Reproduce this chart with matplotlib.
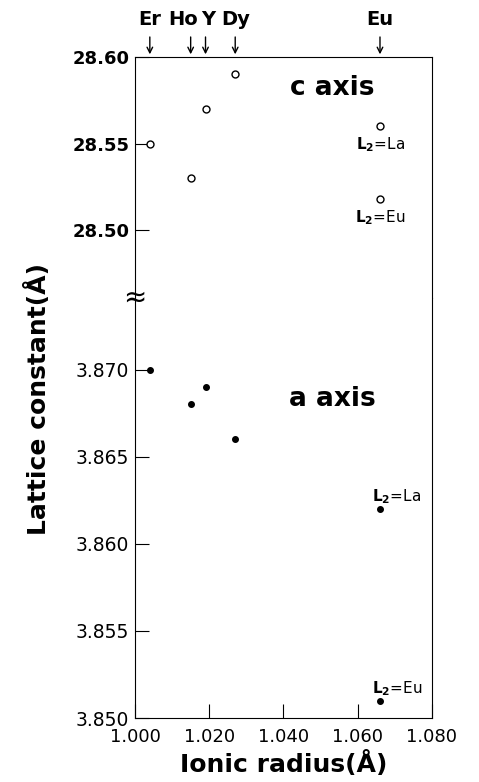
import matplotlib.pyplot as plt

# Данные (ионный радиус, постоянные решетки)
elements = ['Er', 'Ho', 'Y', 'Dy']
radius = [1.004, 1.015, 1.019, 1.027]
c_vals = [28.55, 28.53, 28.57, 28.59]
a_vals = [3.870, 3.868, 3.869, 3.866]

eu_radius = 1.066
l2_labels = ['La', 'Eu']
c_l2 = [28.56, 28.518]
a_l2 = [3.862, 3.851]

x_ticks = [1.000, 1.020, 1.040, 1.060, 1.080]
c_ticks = [28.50, 28.55, 28.60]
a_ticks = [3.850, 3.855, 3.860, 3.865, 3.870]

plt.rcParams['font.family'] = 'DejaVu Sans'
plt.rcParams['mathtext.fontset'] = 'dejavusans'

fig = plt.figure(figsize=(4.79, 7.82), dpi=100)
ax_c = fig.add_axes([0.2818, 0.619, 0.620, 0.308])
ax_a = fig.add_axes([0.2818, 0.0818, 0.620, 0.537])

# верхняя часть: ось c
ax_c.plot(radius, c_vals, 'o', mfc='white', mec='black', ms=5, mew=1)
ax_c.plot([eu_radius] * 2, c_l2, 'o', mfc='white', mec='black', ms=5, mew=1)
ax_c.set_xlim(1.000, 1.080)
ax_c.set_ylim(28.4607, 28.60)
ax_c.set_yticks(c_ticks)
ax_c.set_yticklabels(['%.2f' % v for v in c_ticks], fontsize=13, fontweight='bold')
ax_c.set_xticks([])
ax_c.spines['bottom'].set_visible(False)
ax_c.tick_params(axis='y', direction='in', length=10, pad=4)
ax_c.text(1.0532, 28.582, 'c axis', fontsize=19, fontweight='bold', ha='center', va='center')
for lab, v in zip(l2_labels, c_l2):
    ax_c.text(eu_radius, v - 0.0055, r'$\mathbf{L_2}$=' + lab, fontsize=11,
              ha='center', va='top')

# стрелки с элементами сверху
label_dx = {'Er': 0, 'Ho': -0.0021, 'Y': 0.0007, 'Dy': 0}
for el, r in zip(elements + ['Eu'], radius + [eu_radius]):
    ax_c.annotate('', xy=(r, 1.0), xycoords=('data', 'axes fraction'),
                  xytext=(r, 1.095), textcoords=('data', 'axes fraction'),
                  arrowprops=dict(arrowstyle='->', lw=1, color='black'))
    ax_c.text(r + label_dx.get(el, 0), 1.115, el, transform=ax_c.get_xaxis_transform(),
              fontsize=14, fontweight='bold', ha='center', va='bottom')

# нижняя часть: ось a
ax_a.plot(radius, a_vals, 'o', color='black', ms=4)
ax_a.plot([eu_radius] * 2, a_l2, 'o', color='black', ms=4)
ax_a.set_xlim(1.000, 1.080)
ax_a.set_ylim(3.850, 3.8741)
ax_a.set_yticks(a_ticks)
ax_a.set_yticklabels(['%.3f' % v for v in a_ticks], fontsize=13.5)
ax_a.set_xticks(x_ticks)
ax_a.set_xticklabels(['%.3f' % v for v in x_ticks], fontsize=13)
ax_a.spines['top'].set_visible(False)
ax_a.tick_params(direction='in', length=10, pad=4)
ax_a.tick_params(axis='x', pad=7)
ax_a.text(1.0532, 3.8683, 'a axis', fontsize=19, fontweight='bold', ha='center', va='center')
for lab, v in zip(l2_labels, a_l2):
    ax_a.text(eu_radius - 0.0022, v + 0.00068, r'$\mathbf{L_2}$=' + lab, fontsize=11,
              ha='left', va='center')

# разрыв оси
ax_a.text(0.0, 1.0, '≈', transform=ax_a.transAxes, fontsize=20,
          ha='center', va='center')

ax_a.set_xlabel('Ionic radius(Å)', fontsize=18, fontweight='bold', labelpad=4)
fig.text(0.08, 0.49, 'Lattice constant(Å)', rotation=90, fontsize=18,
         fontweight='bold', ha='center', va='center')

fig.savefig('out.png', dpi=100)
